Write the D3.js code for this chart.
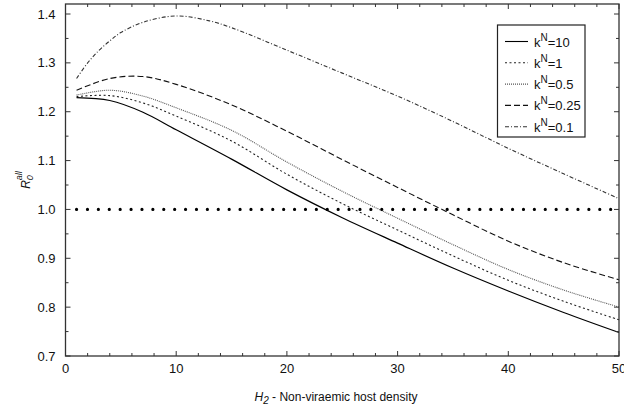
<!DOCTYPE html>
<html><head><meta charset="utf-8">
<script src="https://cdn.jsdelivr.net/npm/d3@7"></script>
<style>
body{margin:0;background:#fff;}
text{font-family:"Liberation Sans",Arial,sans-serif;fill:#111;}
</style></head>
<body><svg id="c" width="624" height="411"></svg>
<script>
const xs    = [1, 4, 7, 10, 15, 20, 25, 30, 35, 40, 45, 50];
const kN10  = [1.229, 1.223, 1.199, 1.163, 1.103, 1.040, 0.983, 0.931, 0.880, 0.833, 0.789, 0.748];
const kN1   = [1.231, 1.233, 1.218, 1.191, 1.140, 1.072, 1.012, 0.958, 0.905, 0.855, 0.812, 0.774];
const kN05  = [1.234, 1.244, 1.232, 1.208, 1.162, 1.097, 1.037, 0.982, 0.928, 0.877, 0.835, 0.800];
const kN025 = [1.244, 1.268, 1.272, 1.256, 1.214, 1.160, 1.102, 1.045, 0.989, 0.935, 0.891, 0.856];
const xsTop = [1, 2, 3, 4, 5, 7, 10, 13, 15, 20, 25, 30, 35, 40, 45, 50];
const kN01  = [1.268, 1.300, 1.325, 1.345, 1.362, 1.383, 1.396, 1.386, 1.372, 1.326, 1.279, 1.232, 1.180, 1.125, 1.073, 1.022];
const seriesLabels = ["10", "1", "0.5", "0.25", "0.1"];
const threshold = 1.0;
const xTicks = [0, 10, 20, 30, 40, 50];
const yTicks = [0.7, 0.8, 0.9, 1.0, 1.1, 1.2, 1.3, 1.4];

const svg = d3.select("#c");
const L = 65.5, R = 619, T = 4, B = 356;
const x = d3.scaleLinear().domain([0, 50]).range([L, R]);
const y = d3.scaleLinear().domain([0.7, 1.4205]).range([B, T]);

const series = [[xs, kN10], [xs, kN1], [xs, kN05], [xs, kN025], [xsTop, kN01]];
const dashes = [null, "2,2.5", "1,1", "6,3", "4,2,1,2"];
const colors = ["#000", "#222", "#555", "#111", "#333"];

const line = d3.line().x(d => x(d[0])).y(d => y(d[1])).curve(d3.curveCatmullRom.alpha(0.5));
series.forEach(([xv, s], i) => {
  svg.append("path").datum(xv.map((v, j) => [v, s[j]]))
    .attr("d", line).attr("fill", "none").attr("stroke", colors[i])
    .attr("stroke-width", i === 0 ? 1.2 : 1.1)
    .attr("stroke-dasharray", dashes[i]);
});
// threshold dotted line
svg.append("line").attr("x1", x(1)).attr("x2", x(50)).attr("y1", y(threshold)).attr("y2", y(threshold))
  .attr("stroke", "#000").attr("stroke-width", 3.2).attr("stroke-linecap", "round")
  .attr("stroke-dasharray", "0,10.9");

// frame
svg.append("rect").attr("x", L).attr("y", T).attr("width", R - L).attr("height", B - T)
  .attr("fill", "none").attr("stroke", "#333").attr("stroke-width", 1.3);

// ticks inward
const g = svg.append("g").attr("stroke", "#333").attr("stroke-width", 1);
d3.range(0, 50.01, 2).forEach(v => {
  const len = v % 10 === 0 ? 5 : 3;
  g.append("line").attr("x1", x(v)).attr("x2", x(v)).attr("y1", B).attr("y2", B - len);
  g.append("line").attr("x1", x(v)).attr("x2", x(v)).attr("y1", T).attr("y2", T + len);
});
d3.range(0.7, 1.4201, 0.05).forEach(v => {
  const major = Math.abs(Math.round(v * 10) - v * 10) < 1e-6;
  const len = major ? 5 : 3;
  g.append("line").attr("x1", L).attr("x2", L + len).attr("y1", y(v)).attr("y2", y(v));
  g.append("line").attr("x1", R).attr("x2", R - len).attr("y1", y(v)).attr("y2", y(v));
});

// tick labels
xTicks.forEach(v => svg.append("text").attr("x", x(v)).attr("y", B + 17)
  .attr("text-anchor", "middle").attr("font-size", 13).text(v));
yTicks.forEach(v => svg.append("text").attr("x", L - 10).attr("y", y(v) + 4.5)
  .attr("text-anchor", "end").attr("font-size", 13).text(v.toFixed(1)));

// x title
const xt = svg.append("text").attr("x", 336).attr("y", 401).attr("text-anchor", "middle").attr("font-size", 12);
xt.append("tspan").attr("font-style", "italic").text("H");
xt.append("tspan").attr("font-style", "italic").attr("font-size", 10).attr("dy", 3).text("2");
xt.append("tspan").attr("dy", -3).text(" - Non-viraemic host density");

// y title
const yt = svg.append("text").attr("transform", "translate(30,180) rotate(-90)").attr("text-anchor", "middle").attr("font-size", 12);
yt.append("tspan").attr("font-style", "italic").text("R");
yt.append("tspan").attr("font-style", "italic").attr("font-size", 9).attr("dy", 3).text("0");
yt.append("tspan").attr("font-style", "italic").attr("font-size", 9).attr("dx", -5).attr("dy", -11).text("all");

// legend
const lg = svg.append("g");
lg.append("rect").attr("x", 497.5).attr("y", 25).attr("width", 87.5).attr("height", 112)
  .attr("fill", "#fff").attr("stroke", "#222").attr("stroke-width", 1.2);
seriesLabels.forEach((lab, i) => {
  const yy = 41.5 + i * 21.3;
  lg.append("line").attr("x1", 505).attr("x2", 528).attr("y1", yy).attr("y2", yy)
    .attr("stroke", colors[i]).attr("stroke-width", 1.1).attr("stroke-dasharray", dashes[i]);
  const t = lg.append("text").attr("x", 534).attr("y", yy + 5).attr("font-size", 13);
  t.append("tspan").text("k");
  t.append("tspan").attr("font-size", 10).attr("dy", -6).text("N");
  t.append("tspan").attr("dy", 6).text("=" + lab);
});
</script></body></html>
